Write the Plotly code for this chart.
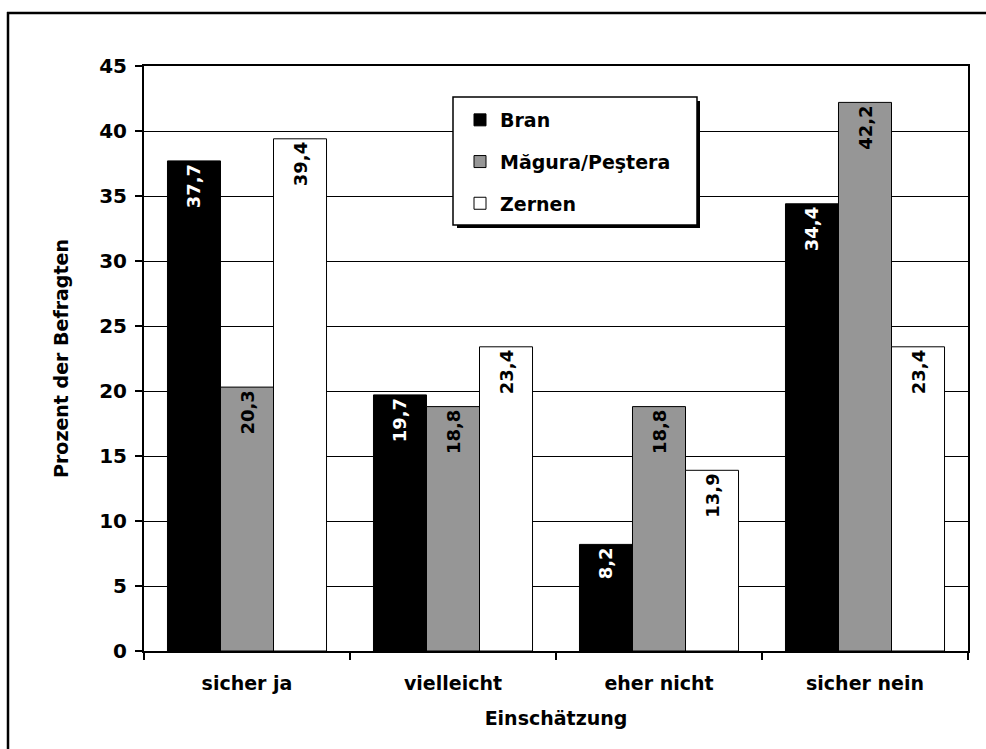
import plotly.graph_objects as go

# Survey data: assessment by village (percent of respondents)
categories = ["sicher ja", "vielleicht", "eher nicht", "sicher nein"]
series_names = ["Bran", "Măgura/Peştera", "Zernen"]
bran = [37.7, 19.7, 8.2, 34.4]
magura = [20.3, 18.8, 18.8, 42.2]
zernen = [39.4, 23.4, 13.9, 23.4]
y_ticks = [0, 5, 10, 15, 20, 25, 30, 35, 40, 45]

W, H = 986, 749
ML, MR, MT, MB = 144, 18, 66, 98
FONT = "DejaVu Sans"


def px_x(px):
    return (px - ML) / (W - ML - MR)


def px_y(py):
    return (H - MB - py) / (H - MT - MB)


fills = ["#000000", "#969696", "#ffffff"]
text_colors = ["#ffffff", "#000000", "#000000"]

fig = go.Figure()
for i, (name, vals) in enumerate(zip(series_names, [bran, magura, zernen])):
    fig.add_trace(go.Bar(
        name=name,
        x=categories,
        y=vals,
        legendgroup=f"g{i}",
        marker=dict(color=fills[i], line=dict(color="#000000", width=1)),
        texttemplate="%{y:.1f}",
        textposition="inside",
        insidetextanchor="end",
        textangle=-90,
        constraintext="none",
        insidetextfont=dict(family=FONT, size=18, color=text_colors[i], weight="bold"),
        cliponaxis=False,
    ))

shapes = [
    # outer frame (top and left edges)
    dict(type="line", xref="paper", yref="paper",
         x0=px_x(7), x1=px_x(990), y0=px_y(13), y1=px_y(13),
         line=dict(color="#000000", width=2.5), layer="above"),
    dict(type="line", xref="paper", yref="paper",
         x0=px_x(8), x1=px_x(8), y0=px_y(12), y1=px_y(760),
         line=dict(color="#000000", width=2.5), layer="above"),
    # legend shadow
    dict(type="rect", xref="paper", yref="paper",
         x0=px_x(457), x1=px_x(700), y0=px_y(228), y1=px_y(101),
         line=dict(width=0), fillcolor="#000000", layer="above"),
    # legend box
    dict(type="rect", xref="paper", yref="paper",
         x0=px_x(453), x1=px_x(697), y0=px_y(225), y1=px_y(97),
         line=dict(color="#000000", width=1.5), fillcolor="#ffffff", layer="above"),
]

fig.update_layout(
    width=W, height=H,
    margin=dict(l=ML, r=MR, t=MT, b=MB, pad=0),
    paper_bgcolor="#ffffff",
    plot_bgcolor="#ffffff",
    separators=",.",
    barmode="group",
    bargap=0.228,
    bargroupgap=0,
    font=dict(family=FONT, size=19, color="#000000"),
    showlegend=True,
    legend=dict(
        x=px_x(460), y=px_y(101), xanchor="left", yanchor="top",
        bgcolor="rgba(0,0,0,0)", borderwidth=0,
        traceorder="grouped", tracegroupgap=14,
        font=dict(family=FONT, size=19, color="#000000", weight="bold"),
        itemwidth=30,
    ),
    shapes=shapes,
)

fig.update_xaxes(
    type="category",
    tickson="boundaries",
    ticks="outside", ticklen=7, tickwidth=2, tickcolor="#000000",
    showline=True, linecolor="#000000", linewidth=2, mirror=True,
    showgrid=False,
    ticklabelstandoff=14,
    tickfont=dict(family=FONT, size=19, color="#000000", weight="bold"),
    title=dict(text="<b>Einschätzung</b>", font=dict(family=FONT, size=19), standoff=19),
)

fig.update_yaxes(
    range=[0, 45],
    tickvals=y_ticks,
    ticks="outside", ticklen=7, tickwidth=2, tickcolor="#000000",
    showline=True, linecolor="#000000", linewidth=2, mirror=True,
    showgrid=True, gridcolor="#000000", gridwidth=1,
    zeroline=False,
    ticklabelstandoff=4,
    tickfont=dict(family=FONT, size=20, color="#000000", weight="bold"),
    title=dict(text="<b>Prozent der Befragten</b>", font=dict(family=FONT, size=19), standoff=26),
)

fig.write_html("out.html")
